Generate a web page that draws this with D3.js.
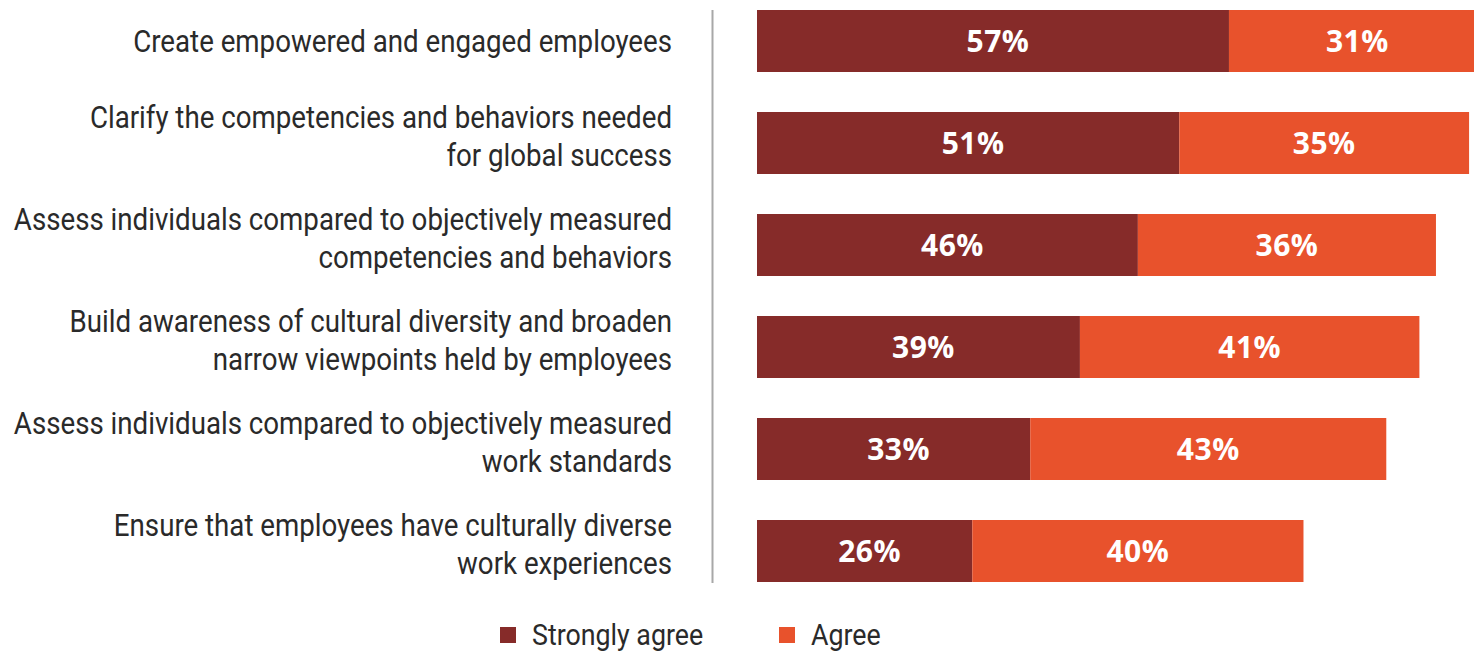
<!DOCTYPE html>
<html><head><meta charset="utf-8">
<script src="https://cdn.jsdelivr.net/npm/d3@7"></script>
<style>body{margin:0;background:#fff}svg{display:block}</style>
</head><body><svg id="c" width="1474" height="653"></svg>
<script>
const categories = [
  ["Create empowered and engaged employees"],
  ["Clarify the competencies and behaviors needed", "for global success"],
  ["Assess individuals compared to objectively measured", "competencies and behaviors"],
  ["Build awareness of cultural diversity and broaden", "narrow viewpoints held by employees"],
  ["Assess individuals compared to objectively measured", "work standards"],
  ["Ensure that employees have culturally diverse", "work experiences"]
];
const stronglyAgree = [57, 51, 46, 39, 33, 26];
const agree = [31, 35, 36, 41, 43, 40];
const seriesNames = ["Strongly agree", "Agree"];
const colors = ["#862b29", "#e8522c"];

const svg = d3.select("#c");
const x = d3.scaleLinear().domain([0, 100]).range([757, 757 + 828]);
const y = d3.scaleBand().domain(d3.range(categories.length)).range([10, 582]).paddingInner(40 / 102).paddingOuter(0);
const bh = y.bandwidth();

const labelFont = "Roboto,'Noto Sans',sans-serif";
const labelWeight = 400;
const valFont = "'Open Sans','Lato',sans-serif";

const probe = svg.append("text").style("font-family", labelFont).style("font-weight", labelWeight).style("font-size", "31px").text(categories[0][0]);
const k = 539 / probe.node().getComputedTextLength();
probe.remove();

svg.append("line").attr("x1", 712.5).attr("x2", 712.5).attr("y1", 10).attr("y2", 583)
  .attr("stroke", "#a8a8a8").attr("stroke-width", 2);

const rows = svg.selectAll("g.row").data(categories.map((c, i) => ({c, i, s: stronglyAgree[i], a: agree[i]})))
  .enter().append("g").attr("class", "row");

rows.append("rect").attr("x", x(0)).attr("y", d => y(d.i)).attr("height", bh)
  .attr("width", d => x(d.s) - x(0)).attr("fill", colors[0]);
rows.append("rect").attr("x", d => x(d.s)).attr("y", d => y(d.i)).attr("height", bh)
  .attr("width", d => x(d.s + d.a) - x(d.s)).attr("fill", colors[1]);

function valText(sel, xf, tf) {
  sel.append("text").attr("x", xf).attr("y", d => y(d.i) + bh / 2)
    .attr("dy", "0.36em").attr("text-anchor", "middle").attr("fill", "#fff")
    .style("font-family", valFont).style("font-weight", 700).style("font-size", "30px")
    .style("letter-spacing", "0.5px").text(tf);
}
valText(rows, d => (x(0) + x(d.s)) / 2 + 5, d => d.s + "%");
valText(rows, d => (x(d.s) + Math.min(x(d.s + d.a), 1487)) / 2, d => d.a + "%");

rows.each(function(d) {
  const g = d3.select(this);
  const cy = y(d.i) + bh / 2;
  const base = d.c.length === 1 ? [cy + 11] : [cy - 15, cy + 23];
  d.c.forEach((t, j) => {
    g.append("text").attr("transform", `translate(672,${base[j]}) scale(${k},1)`).attr("text-anchor", "end")
      .attr("fill", "#2a2a2a").style("font-family", labelFont).style("font-weight", labelWeight).style("font-size", "31px")
      .text(t);
  });
});

const legX = [500, 779];
seriesNames.forEach((n, j) => {
  svg.append("rect").attr("x", legX[j]).attr("y", 627).attr("width", 16).attr("height", 16).attr("fill", colors[j]);
  svg.append("text").attr("transform", `translate(${legX[j] + 32},645) scale(${k},1)`).attr("fill", "#2a2a2a")
    .style("font-family", labelFont).style("font-weight", labelWeight).style("font-size", "30px").text(n);
});
</script></body></html>
